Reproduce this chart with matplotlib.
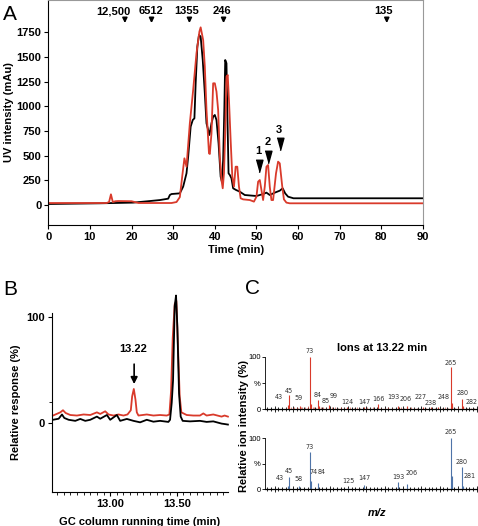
import matplotlib
matplotlib.use("Agg")
import matplotlib.pyplot as plt
from matplotlib.ticker import MultipleLocator

plt.rcParams['font.family'] = ['Liberation Sans', 'DejaVu Sans']

RED = "#d93a2b"
BLUE = "#4f74a8"

# ---- Panel A: size-exclusion UV traces ----
a_black_t = [0, 12.4, 20.4, 24.4, 26.8, 28.8, 29.2, 29.6, 31.6, 32.4, 33.2, 33.6, 34.2, 34.7, 35.1,
             35.4, 35.8, 36.2, 36.6, 37.1, 37.6, 38.0, 38.7, 39.2, 39.6, 40.0, 40.4, 40.9, 41.4,
             41.7, 42.0, 42.3, 42.5, 42.8, 43.0, 43.3, 43.6, 44.0, 44.4, 45.1, 46.0, 47.2, 50.0,
             51.6, 52.4, 53.2, 54.4, 55.6, 56.3, 56.9, 57.6, 58.9, 90]
a_black_v = [10, 17, 24, 40, 50, 64, 101, 111, 118, 186, 321, 490, 794, 861, 878,
             1233, 1604, 1723, 1706, 1469, 1132, 828, 709, 828, 895, 912, 861, 625, 287,
             236, 456, 997, 1469, 1436, 963, 321, 304, 270, 169, 152, 135, 101, 91,
             111, 125, 101, 125, 145, 169, 118, 84, 68, 68]

a_red_t = [0, 14.0, 14.6, 15.05, 15.5, 16.1, 16.8, 20.0, 21.7, 29.6, 30.8, 31.6, 32.2, 32.7, 33.2,
           34.0, 34.8, 35.6, 36.3, 36.6, 37.2, 37.6, 38.0, 38.6, 38.8, 39.2, 39.6, 40.0, 40.4,
           40.8, 41.2, 41.6, 41.9, 42.2, 42.5, 42.8, 43.1, 43.4, 43.8, 44.2, 44.6, 45.0, 45.4,
           45.8, 46.2, 46.8, 48.4, 49.4, 50.0, 50.4, 50.8, 51.2, 51.6, 52.0, 52.4, 52.8, 53.2,
           53.6, 54.0, 54.7, 55.2, 55.6, 56.2, 56.6, 57.2, 58.0, 90]
a_red_v = [20, 20, 30, 108, 30, 38, 40, 38, 20, 20, 30, 80, 300, 473, 388,
           828, 1165, 1537, 1757, 1800, 1672, 1400, 963, 523, 517, 726, 1233, 1233, 1149,
           963, 490, 253, 169, 321, 726, 1300, 1317, 1064, 659, 287, 186, 388, 388,
           186, 68, 57, 50, 34, 84, 236, 253, 152, 50, 186, 388, 405, 186,
           50, 50, 321, 439, 422, 186, 57, 24, 17, 17]

mw_labels = ["12,500", "6512", "1355", "246", "135"]
mw_times = [18.4, 24.8, 33.9, 42.1, 81.3]
mw_label_times = [15.6, 24.6, 33.2, 41.6, 80.6]

peak_ids = ["1", "2", "3"]
peak_times = [50.6, 52.8, 55.6]
peak_marks = [395, 491, 613]

# ---- Panel B: GC traces ----
b_red_t = [12.57, 12.625, 12.645, 12.665, 12.70, 12.75, 12.80, 12.85, 12.90, 12.925, 12.9625,
           12.9875, 13.025, 13.0625, 13.10, 13.13, 13.155, 13.165, 13.1775, 13.19, 13.20,
           13.2125, 13.275, 13.325, 13.375, 13.425, 13.445, 13.4575, 13.47, 13.485, 13.4975,
           13.51, 13.5225, 13.535, 13.575, 13.625, 13.675, 13.70, 13.725, 13.775, 13.8375,
           13.86, 13.885]
b_red_v = [7, 10, 12, 9.4, 7.5, 7, 8, 7.5, 10, 8.5, 11,
           8, 7, 8, 7, 8, 12, 25, 32, 22, 10,
           7, 8, 7, 7.5, 7, 8, 30, 80, 112, 115,
           70, 25, 10, 7.5, 7, 7, 9, 7, 8, 6,
           7, 6]

b_black_t = [12.57, 12.6125, 12.6375, 12.655, 12.6875, 12.7375, 12.775, 12.8125, 12.85, 12.90,
             12.925, 12.975, 13.00, 13.05, 13.075, 13.125, 13.175, 13.225, 13.275, 13.325,
             13.375, 13.4375, 13.45, 13.4625, 13.4725, 13.485, 13.495, 13.505, 13.5175, 13.53,
             13.545, 13.60, 13.675, 13.725, 13.775, 13.8375, 13.86, 13.885]
b_black_v = [3, 4, 8, 4.7, 3, 2, 3.8, 2, 3, 6,
             4, 7.5, 3, 7.5, 2, 3.8, 2, 0.6, 3, 1.2,
             2, 1, 3, 19, 40, 110, 120, 90, 28, 6,
             2, 1.5, 2, 1, 1.5, -0.6, -1, -1.5]

# ---- Panel C: mass spectra ----
c_top_mz = [43, 45, 59, 73, 74, 84, 85, 99, 124, 147, 166, 193, 206, 227, 238, 248, 265, 266, 267, 280, 281, 282]
c_top_int = [8, 27, 6, 100, 10, 17, 6, 8, 4, 4, 9, 5, 5, 4, 3, 4, 80, 12, 5, 20, 6, 4]
c_top_noise_mz = [40, 47, 50, 52, 55, 57, 61, 63, 66, 69, 71, 77, 79, 81, 88, 91, 95, 103, 107, 111,
                  115, 119, 128, 133, 137, 141, 151, 155, 159, 170, 175, 180, 185, 197, 201, 211,
                  215, 219, 231, 243, 253, 257, 261, 271, 275, 287, 292, 297]
c_top_noise_int = [2, 3, 2, 4, 3, 2, 3, 4, 3, 2, 5, 3, 4, 2, 3, 4, 2, 3, 3, 2,
                   3, 2, 3, 2, 3, 2, 3, 2, 3, 2, 2, 3, 2, 3, 2, 3,
                   2, 2, 2, 2, 2, 3, 2, 2, 3, 2, 2, 2]
c_top_lbl = ["43", "45", "59", "73", "84", "85", "99", "124", "147", "166", "193", "206", "227", "238", "248", "265", "280", "282"]
c_top_lbl_mz = [31, 45, 58, 73, 83, 95, 105, 124, 147, 166, 187, 203, 224, 238, 255, 265, 281, 293]
c_top_lbl_y = [17, 29, 15, 105, 22, 9, 19, 8, 8, 14, 18, 14, 17, 6, 17, 83, 25, 8]

c_bot_mz = [43, 45, 58, 73, 74, 84, 125, 147, 193, 206, 265, 266, 280, 281]
c_bot_int = [5, 24, 6, 72, 15, 12, 2, 8, 13, 9, 100, 25, 44, 5]
c_bot_lbl = ["43", "45", "58", "73", "74", "84", "125", "147", "193", "206", "265", "280", "281"]
c_bot_lbl_mz = [32, 45, 57, 73, 78, 89, 125, 147, 193, 212, 265, 280, 291]
c_bot_lbl_y = [15, 29, 13, 77, 27, 27, 10, 16, 17, 26, 106, 48, 19]

fig = plt.figure(figsize=(4.78, 5.26), dpi=100)

# Panel A
axA = fig.add_axes([0.101, 0.5722, 0.7839, 0.4278])
axA.plot(a_black_t, a_black_v, color="black", lw=1.3)
axA.plot(a_red_t, a_red_v, color=RED, lw=1.3)
axA.set_xlim(0, 90)
axA.set_ylim(-203, 2077)
axA.set_xticks(range(0, 91, 10))
axA.set_yticks(range(0, 1751, 250))
axA.tick_params(labelsize=8, length=3, width=0.8, pad=2)
for lbl in axA.get_xticklabels() + axA.get_yticklabels():
    lbl.set_fontweight("bold")
axA.set_xlabel("Time (min)", fontsize=8, fontweight="bold", labelpad=2)
axA.set_ylabel("UV intensity (mAu)", fontsize=8, fontweight="bold", labelpad=2)
axA.spines["top"].set_color("#999999")
axA.spines["right"].set_color("#999999")
for t, lt, s in zip(mw_times, mw_label_times, mw_labels):
    axA.annotate("", xy=(t, 1815), xytext=(t, 1915),
                 arrowprops=dict(arrowstyle="-|>", color="black", lw=1.2, mutation_scale=7))
    axA.text(lt, 1965, s, fontsize=8, fontweight="bold", ha="center", va="center")
tri = [(-0.55, 1), (0.55, 1), (0, -1)]
axA.plot(peak_times, peak_marks, linestyle="none", marker=tri, markersize=9, color="black")
for t, m, s in zip(peak_times, peak_marks, peak_ids):
    axA.text(t - 0.2, m + 150, s, fontsize=8, fontweight="bold", ha="center", va="center")

# Panel B
axB = fig.add_axes([0.1088, 0.0646, 0.368, 0.3403])
axB.plot(b_red_t, b_red_v, color=RED, lw=1.3, clip_on=False)
axB.plot(b_black_t, b_black_v, color="black", lw=1.3, clip_on=False)
axB.set_xlim(12.5625, 13.885)
axB.set_ylim(-65, 103.5)
axB.set_xticks([13.0, 13.5])
axB.set_xticklabels(["13.00", "13.50"])
axB.xaxis.set_minor_locator(MultipleLocator(0.05))
axB.set_yticks([0, 100])
axB.set_yticks([20], minor=True)
axB.tick_params(labelsize=8, length=3, width=0.8, pad=2)
axB.tick_params(which="minor", length=2, width=0.6)
for lbl in axB.get_xticklabels() + axB.get_yticklabels():
    lbl.set_fontweight("bold")
for sp in ["top", "right"]:
    axB.spines[sp].set_visible(False)
axB.set_xlabel("GC column running time (min)", fontsize=8, fontweight="bold", labelpad=6)
axB.set_ylabel("Relative response (%)", fontsize=8, fontweight="bold", labelpad=4)
axB.annotate("", xy=(13.18, 34), xytext=(13.18, 58),
             arrowprops=dict(arrowstyle="-|>", color="black", lw=1.2, mutation_scale=10))
axB.text(13.175, 70, "13.22", fontsize=8, fontweight="bold", ha="center", va="center")

# Panel C
def spectrum(ax, mz, inten, color, labels, lbl_mz, lbl_y):
    ax.vlines(mz, 0, inten, color=color, lw=0.8)
    for s, x, y in zip(labels, lbl_mz, lbl_y):
        ax.text(x, y, s, fontsize=5.1, ha="center", va="bottom", color="#333333",
                family="DejaVu Sans", stretch="condensed", clip_on=False)
    ax.set_xlim(12, 302)
    ax.set_ylim(0, 100)
    ax.set_yticks([0, 50, 100])
    ax.set_yticklabels(["0", "%", "100"])
    ax.set_xticks(range(25, 301, 25))
    ax.set_xticklabels([])
    ax.xaxis.set_minor_locator(MultipleLocator(5))
    ax.tick_params(axis="y", labelsize=5.5, length=2, width=0.6, pad=1)
    ax.tick_params(axis="x", direction="inout", length=4, width=0.6)
    ax.tick_params(axis="x", which="minor", direction="inout", length=2.5, width=0.6)
    for sp in ["top", "right"]:
        ax.spines[sp].set_visible(False)
    ax.spines["left"].set_linewidth(0.6)
    ax.spines["bottom"].set_linewidth(0.9)

axC1 = fig.add_axes([0.5544, 0.2224, 0.4456, 0.0989])
axC1.vlines(c_top_noise_mz, 0, c_top_noise_int, color=RED, lw=0.6, alpha=0.7)
spectrum(axC1, c_top_mz, c_top_int, RED, c_top_lbl, c_top_lbl_mz, c_top_lbl_y)
axC2 = fig.add_axes([0.5544, 0.0703, 0.4456, 0.097])
spectrum(axC2, c_bot_mz, c_bot_int, BLUE, c_bot_lbl, c_bot_lbl_mz, c_bot_lbl_y)
axC1.set_title("Ions at 13.22 min", fontsize=8, fontweight="bold", pad=4, x=0.55)

fig.text(0.51, 0.19, "Relative ion intensity (%)", rotation=90, fontsize=8,
         fontweight="bold", ha="center", va="center")
fig.text(0.79, 0.025, "m/z", fontsize=8, fontweight="bold", style="italic", ha="center", va="center")

# Panel letters
fig.text(0.006, 0.973, "A", fontsize=15, ha="left", va="center")
fig.text(0.006, 0.449, "B", fontsize=15, ha="left", va="center")
fig.text(0.512, 0.452, "C", fontsize=15, ha="left", va="center")

fig.savefig("out.png", dpi=100)
